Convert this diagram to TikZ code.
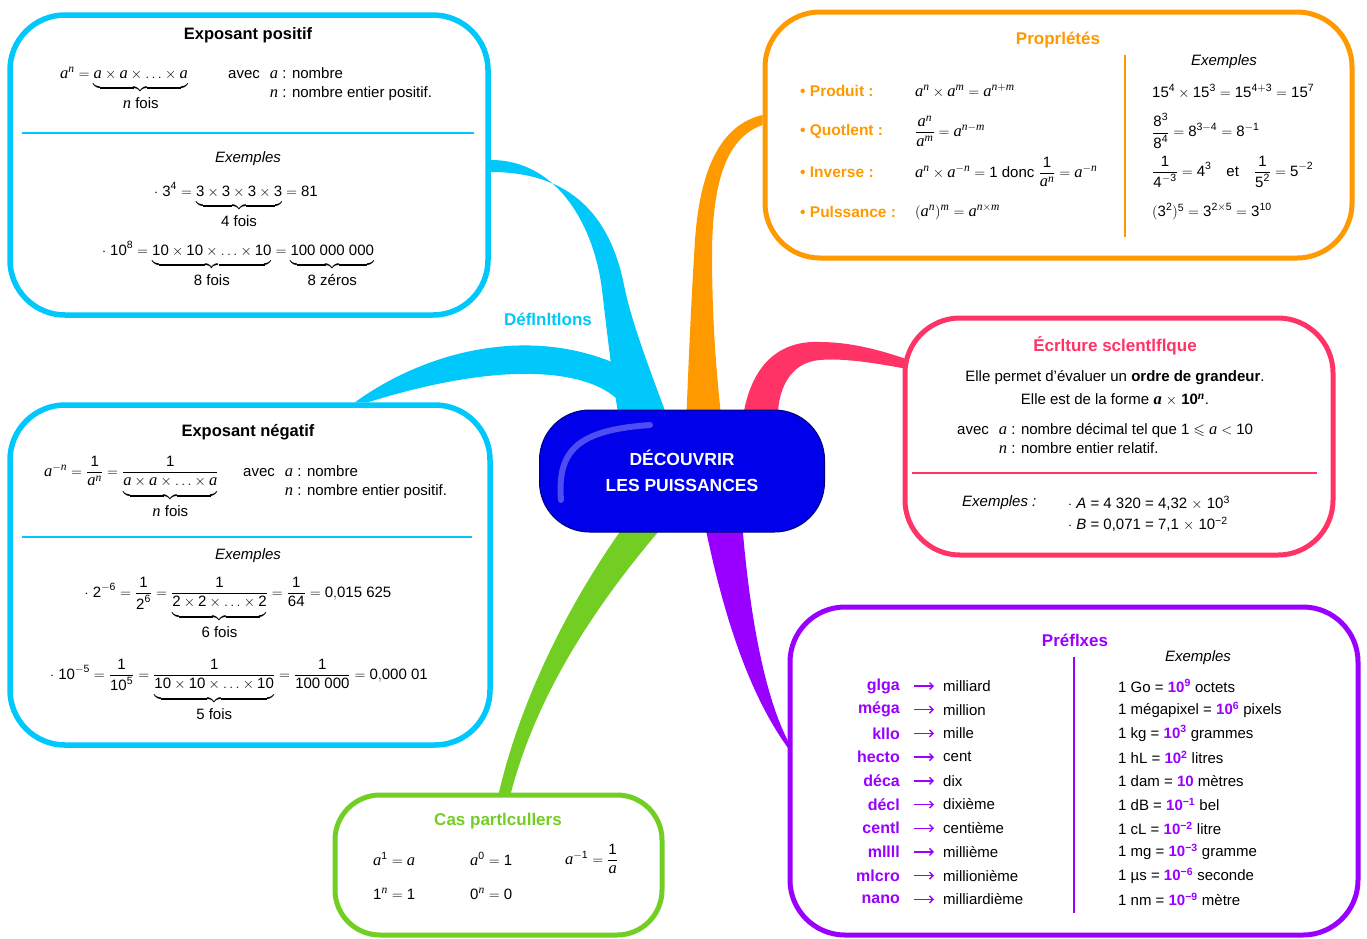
\documentclass[tikz,border=0pt]{standalone}
\usepackage{amsmath,amssymb}
\usepackage{fontspec}
\setmainfont{Liberation Sans}
\newfontfamily\lseriffam{Liberation Serif}[Scale=1.1]
\def\mkdig#1{\begingroup\lccode`\~=`#1\lowercase{\endgroup\def~{{\text{#1}}}}\mathcode`#1="8000\relax}
\def\mklet#1{\begingroup\lccode`\~=`#1\lowercase{\endgroup\def~{{\text{\lseriffam\itshape #1}}}}\mathcode`#1="8000\relax}
\AtBeginDocument{\mkdig0\mkdig1\mkdig2\mkdig3\mkdig4\mkdig5\mkdig6\mkdig7\mkdig8\mkdig9\mklet a\mklet n\mklet m}
\usetikzlibrary{calc,arrows.meta}
\pgfdeclarelayer{bg}
\pgfsetlayers{bg,main}
\definecolor{cyc}{RGB}{0,200,250}
\definecolor{orc}{RGB}{255,153,0}
\definecolor{pkc}{RGB}{255,51,102}
\definecolor{puc}{RGB}{153,0,255}
\definecolor{grc}{RGB}{115,206,35}
\definecolor{bin}{RGB}{0,0,235}
\definecolor{bout}{RGB}{0,0,120}
\pgfdeclareradialshading{pill}{\pgfpoint{0bp}{0bp}}{color(0bp)=(bin); color(30bp)=(bin); color(45bp)=(bout); color(50bp)=(bout)}
\newcommand\pw[1]{\textcolor{puc}{\textbf{10\textsuperscript{#1}}}}
\newcommand\ub[2]{\underbrace{#1\rule[-6pt]{0pt}{6pt}}_{\textstyle\rule{0pt}{14pt}\text{#2}}}
\newcommand\bit[1]{{\lseriffam\bfseries\itshape #1}}
\begin{document}
\begin{tikzpicture}[x=1pt,y=-1pt,
 bodytxt/.style={font=\fontsize{15}{19}\selectfont, inner sep=0pt},
 fm/.style={font=\fontsize{15}{18}\selectfont, inner sep=0pt},
 exm/.style={font=\fontsize{15}{19}\selectfont\itshape, inner sep=0pt},
 ttlk/.style={font=\fontsize{16.5}{20}\selectfont\bfseries, inner sep=0pt},
 ttlc/.style={font=\fontsize{17}{20}\selectfont\bfseries, inner sep=0pt},
 lblo/.style={font=\fontsize{15.5}{19}\selectfont\bfseries, text=orc, inner sep=0pt},
 lblp/.style={font=\fontsize{16}{19}\selectfont\bfseries, text=puc, inner sep=0pt},
 boxs/.style={draw, fill=white, line width=5pt, rounded corners=55pt, inner sep=0pt},
 sepl/.style={line width=1.1pt},
 parr/.style={puc, line width=1.4pt, -{Straight Barb[length=3.5pt,width=7pt]}},
]
\useasboundingbox (0,0) rectangle (1367,938);

% ---------- boxes ----------
\node[boxs, draw=cyc, line width=5.5pt, minimum width=478pt, minimum height=300pt] (pos) at (249,165) {};
\node[boxs, draw=cyc, line width=5.5pt, minimum width=480pt, minimum height=340pt] (neg) at (250,575) {};
\node[boxs, draw=orc, minimum width=587pt, minimum height=246pt] (prop) at (1058.5,135) {};
\node[boxs, draw=pkc, minimum width=428pt, minimum height=237pt] (sci) at (1119,436.5) {};
\node[boxs, draw=puc, minimum width=568pt, minimum height=328pt] (pre) at (1074,771) {};
\node[boxs, draw=grc, minimum width=327pt, minimum height=140pt, rounded corners=45pt] (cas) at (498.5,865) {};

% ---------- centre ----------
\node[shade, shading=pill, draw=bout, line width=1pt, rounded corners=50pt, minimum width=285pt, minimum height=122pt, text=white, align=center, font=\fontsize{17.5}{26}\selectfont\bfseries] (c) at (682,471) {DÉCOUVRIR\\LES PUISSANCES};
\draw[white, opacity=.3, line width=6pt, line cap=round] (561,500) .. controls (557,450) and (578,430) .. (650,425);

% ---------- branches ----------
\coordinate (cyA) at ($(pos.east)+(0,-5)$);
\coordinate (cyB) at ($(pos.east)+(0,7)$);
\coordinate (cyL) at ($(c.north)+(-62,15)$);
\coordinate (cyR) at ($(c.north)+(-12,15)$);
\coordinate (cnA) at ($(neg.north)+(105,0)$);
\coordinate (cnB) at ($(neg.north)+(118,0)$);
\coordinate (orA) at ($(prop.west)+(0,-20)$);
\coordinate (orB) at ($(prop.west)+(0,-10)$);
\coordinate (orL) at ($(c.north)+(4,15)$);
\coordinate (orR) at ($(c.north)+(40,15)$);
\coordinate (pkA) at ($(sci.west)+(2,-78)$);
\coordinate (pkB) at ($(sci.west)+(2,-68)$);
\coordinate (pkL) at ($(c.north)+(60,15)$);
\coordinate (pkR) at ($(c.north)+(96,15)$);
\coordinate (puL) at ($(c.south)+(22,-12)$);
\coordinate (puR) at ($(c.south)+(60,-12)$);
\coordinate (puA) at ($(pre.west)+(0,-31)$);
\coordinate (puB) at ($(pre.west)+(2,-21)$);
\coordinate (grL) at ($(c.south)+(-54,-12)$);
\coordinate (grR) at ($(c.south)+(-14,-12)$);
\coordinate (grA) at ($(cas.north)+(0,2)$);
\coordinate (grB) at ($(cas.north)+(12,2)$);
\begin{pgfonlayer}{bg}
\fill[cyc] (cyA) .. controls (560,160) and (595,230) .. (602,290) .. controls (608,340) and (613,385) .. (cyL) -- (cyR) .. controls (652,375) and (632,325) .. (624,285) .. controls (610,215) and (570,172) .. (cyB) -- cycle;
\fill[cyc] (cnA) .. controls (420,355) and (520,325) .. (612,362) -- (618,400) .. controls (590,372) and (510,358) .. (cnB) -- cycle;
\fill[orc] (orA) .. controls (720,125) and (700,170) .. (695,240) .. controls (690,320) and (688,380) .. (orL) -- (orR) .. controls (716,370) and (712,320) .. (712,250) .. controls (713,185) and (725,138) .. (orB) -- cycle;
\fill[pkc] (pkA) .. controls (880,350) and (850,342) .. (820,342) .. controls (775,340) and (748,370) .. (pkL) -- (pkR) .. controls (776,390) and (790,362) .. (820,360) .. controls (840,358) and (870,362) .. (pkB) -- cycle;
\fill[puc] (puL) .. controls (720,600) and (745,690) .. (puB) -- (puA) .. controls (762,690) and (748,600) .. (puR) -- cycle;
\fill[grc] (grL) .. controls (570,600) and (520,700) .. (grA) -- (grB) .. controls (535,700) and (590,610) .. (grR) -- cycle;
\end{pgfonlayer}
\node[ttlc, text=cyc] (def) at (548,319) {Déflnltlons};

% ---------- Exposant positif ----------
\node[ttlk] (t1) at (248,35) {Exposant positif};
\node[bodytxt, anchor=base west] (f1) at (60,78) {$a^n = \ub{a\times a\times \ldots\times a}{$n$ fois}$};
\node[bodytxt, anchor=base west] (v1) at (228,78) {\begin{tabular}[t]{@{}l@{\hspace{10pt}}l@{}}avec & $a$ : nombre\\ & $n$ : nombre entier positif.\end{tabular}};
\draw[cyc, sepl] (22,133) -- (474,133);
\node[exm] (e1) at (248,159) {Exemples};
\node[bodytxt, anchor=base] (x11) at (236,196) {$\cdot\ 3^4 = \ub{3\times3\times3\times3}{4 fois} = 81$};
\node[bodytxt, anchor=base] (x12) at (238,255) {$\cdot\ 10^8 = \ub{10\times10\times\ldots\times10}{8 fois} = \ub{100\ 000\ 000}{8 zéros}$};

% ---------- Exposant negatif ----------
\node[ttlk] (t2) at (248,432) {Exposant négatif};
\node[bodytxt, anchor=base west] (f2) at (44,476) {$a^{-n} = \dfrac{1}{a^n} = \dfrac{1}{\ub{a\times a\times\ldots\times a}{$n$ fois}}$};
\node[bodytxt, anchor=base west] (v2) at (243,476) {\begin{tabular}[t]{@{}l@{\hspace{10pt}}l@{}}avec & $a$ : nombre\\ & $n$ : nombre entier positif.\end{tabular}};
\draw[cyc, sepl] (22,537) -- (472,537);
\node[exm] (e2) at (248,556) {Exemples};
\node[bodytxt, anchor=base] (x21) at (238,597) {$\cdot\ 2^{-6} = \dfrac{1}{2^6} = \dfrac{1}{\ub{2\times2\times\ldots\times2}{6 fois}} = \dfrac{1}{64} = 0{,}015\ 625$};
\node[bodytxt, anchor=base] (x22) at (239,679) {$\cdot\ 10^{-5} = \dfrac{1}{10^5} = \dfrac{1}{\ub{10\times10\times\ldots\times10}{5 fois}} = \dfrac{1}{100\ 000} = 0{,}000\ 01$};

% ---------- Proprietes ----------
\node[ttlc, text=orc] (t3) at (1058,40) {Proprlétés};
\draw[orc, sepl] (1125,55) -- (1125,237);
\node[lblo, anchor=west] (l31) at (800,91) {\textbullet\ Produit :};
\node[lblo, anchor=west] (l32) at (800,131) {\textbullet\ Quotlent :};
\node[lblo, anchor=west] (l33) at (800,172) {\textbullet\ Inverse :};
\node[lblo, anchor=west] (l34) at (800,212) {\textbullet\ Pulssance :};
\node[fm, anchor=west] (p31) at (915,91) {$a^n \times a^m = a^{n+m}$};
\node[fm, anchor=west] (p32) at (915,131) {$\dfrac{a^n}{a^m} = a^{n-m}$};
\node[fm, anchor=west] (p33) at (915,172) {$a^n\times a^{-n} = 1$ donc $\dfrac{1}{a^n} = a^{-n}$};
\node[fm, anchor=west] (p34) at (915,212) {$(a^n)^m = a^{n\times m}$};
\node[exm] (e3) at (1224,62) {Exemples};
\node[fm, anchor=west] (q31) at (1152,91) {$15^4\times15^3 = 15^{4+3} = 15^7$};
\node[fm, anchor=west] (q32) at (1152,131) {$\dfrac{8^3}{8^4} = 8^{3-4} = 8^{-1}$};
\node[fm, anchor=west] (q33) at (1152,172) {$\dfrac{1}{4^{-3}} = 4^3$\quad et\quad $\dfrac{1}{5^2} = 5^{-2}$};
\node[fm, anchor=west] (q34) at (1152,212) {$(3^2)^5 = 3^{2\times5} = 3^{10}$};

% ---------- Ecriture scientifique ----------
\node[ttlc, text=pkc] (t4) at (1115,346) {Écrlture sclentlflque};
\node[bodytxt] (s1) at (1115,378) {Elle permet d’évaluer un \textbf{ordre de grandeur}.};
\node[bodytxt] (s2) at (1115,400) {Elle est de la forme \bit{a} $\times$ \textbf{10}\textsuperscript{\bit{n}}.};
\node[bodytxt, anchor=base west] (s3) at (957,434) {\begin{tabular}[t]{@{}l@{\hspace{10pt}}l@{}}avec & $a$ : nombre décimal tel que $1\leqslant a<10$\\ & $n$ : nombre entier relatif.\end{tabular}};
\draw[pkc, sepl] (912,473) -- (1317,473);
\node[exm, anchor=west] (e4) at (962,503) {Exemples :};
\node[bodytxt, anchor=west] (s4) at (1068,503) {$\cdot$\ \textit{A} = 4 320 = 4,32 $\times$ 10\textsuperscript{3}};
\node[bodytxt, anchor=west] (s5) at (1068,524) {$\cdot$\ \textit{B} = 0,071 = 7,1 $\times$ 10\textsuperscript{−2}};

% ---------- Prefixes ----------
\node[ttlc, text=puc] (t5) at (1075,640) {Préflxes};
\draw[puc, sepl] (1074,657) -- (1074,913);
\node[exm] (e5) at (1198,658) {Exemples};
\foreach \xa/\xb/\xc [count=\i] in {
  glga/milliard/{1 Go = \pw{9} octets},
  méga/million/{1 mégapixel = \pw{6} pixels},
  kllo/mille/{1 kg = \pw{3} grammes},
  hecto/cent/{1 hL = \pw{2} litres},
  déca/dix/{1 dam = \textcolor{puc}{\textbf{10}} mètres},
  décl/dixième/{1 dB = \pw{−1} bel},
  centl/centième/{1 cL = \pw{−2} litre},
  mllll/millième/{1 mg = \pw{−3} gramme},
  mlcro/millionième/{1 µs = \pw{−6} seconde},
  nano/milliardième/{1 nm = \pw{−9} mètre}} {
  \pgfmathsetmacro\yy{686+(\i-1)*23.7}
  \node[lblp, anchor=east] (pa\i) at (900,\yy) {\xa};
  \node[bodytxt, anchor=west] (pc\i) at (943,\yy) {\xb};
  \node[bodytxt, anchor=west] (pd\i) at (1118,\yy) {\xc};
  \draw[parr] ($(pa\i.east)+(14,0)$) -- ($(pc\i.west)+(-9,0)$);
}

% ---------- Cas particuliers ----------
\node[ttlc, text=grc] (t6) at (498,821) {Cas partlcullers};
\node[bodytxt, anchor=west] (k1) at (373,859) {$a^1 = a$};
\node[bodytxt, anchor=west] (k2) at (470,859) {$a^0 = 1$};
\node[bodytxt, anchor=west] (k3) at (565,859) {$a^{-1} = \dfrac{1}{a}$};
\node[bodytxt, anchor=west] (k4) at (373,894) {$1^n = 1$};
\node[bodytxt, anchor=west] (k5) at (470,894) {$0^n = 0$};
\end{tikzpicture}
\end{document}
